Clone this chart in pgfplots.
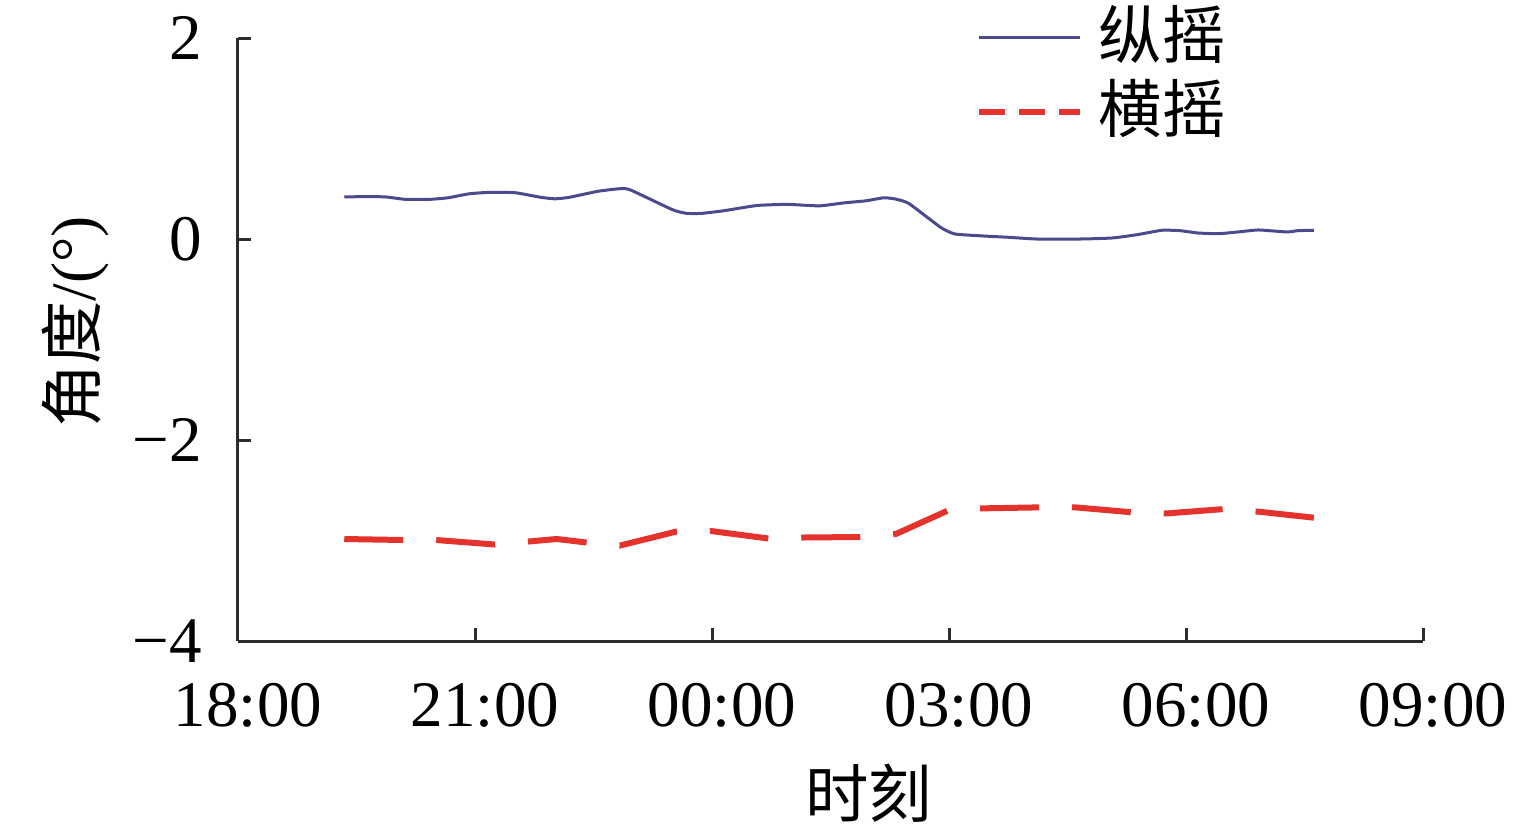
\documentclass[border=0pt]{standalone}
\usepackage{fontspec}
\setmainfont{Liberation Serif}
\newfontfamily\cjk{Noto Sans CJK SC}
\usepackage{pgfplots}
\pgfplotsset{compat=1.18}
\definecolor{pitchc}{RGB}{74,74,140}
\definecolor{rollc}{RGB}{228,50,45}
\definecolor{axisgray}{RGB}{45,45,45}

\pgfplotsset{
  pitchleg/.style={legend image code/.code={\draw[##1] (0pt,0.6pt) -- (30.3pt,0.6pt);}},
  rollleg/.style={legend image code/.code={\draw[##1, dash pattern=on 7.8pt off 4.2pt] (0pt,0.6pt) -- (30.3pt,0.6pt);}},
}

\pgfplotstableread{
h v
1.345 0.42
1.843 0.42
2.114 0.395
2.430 0.395
2.657 0.41
2.928 0.45
3.199 0.465
3.515 0.46
3.832 0.415
4.013 0.40
4.194 0.415
4.556 0.475
4.827 0.50
4.962 0.49
5.505 0.29
5.684 0.255
5.866 0.255
6.138 0.28
6.409 0.315
6.590 0.335
6.949 0.345
7.358 0.33
7.675 0.36
7.946 0.38
8.172 0.41
8.308 0.40
8.489 0.355
8.895 0.115
9.076 0.05
9.438 0.03
9.754 0.017
10.114 0.0
10.658 0.0
11.063 0.01
11.380 0.043
11.696 0.087
11.924 0.083
12.151 0.06
12.418 0.053
12.692 0.073
12.919 0.09
13.278 0.07
13.416 0.083
13.619 0.087
}\pitchdata

\pgfplotstableread{
h v
1.345 -2.985
2.085 -2.995
2.506 -2.995
3.253 -3.04
3.675 -3.01
4.034 -2.985
4.414 -3.02
4.835 -3.05
5.553 -2.91
5.984 -2.905
6.713 -2.98
7.157 -2.97
7.891 -2.965
8.328 -2.935
8.991 -2.70
9.428 -2.68
10.161 -2.67
10.597 -2.67
11.327 -2.72
11.762 -2.73
12.482 -2.687
12.919 -2.713
13.618 -2.773
}\rolldata

\begin{document}
\begin{tikzpicture}
\begin{axis}[
  scale only axis, width=355.5pt, height=180.9pt,
  xmin=0, xmax=15, ymin=-4, ymax=2,
  axis x line=bottom, axis y line=left,
  axis line style={-, draw=axisgray, line width=0.9pt},
  xtick={0,3,6,9,12,15},
  xticklabels={18:00,21:00,00:00,03:00,06:00,09:00},
  ytick={-4,-2,0,2}, yticklabels={−4,−2,0,2},
  tick align=inside, major tick length=3.9pt,
  tick style={draw=axisgray, line width=0.9pt},
  ticklabel style={font=\fontsize{19.5}{22}\selectfont},
  xticklabel style={yshift=-9pt, xshift=3pt},
  yticklabel style={xshift=-7.4pt},
  xlabel={\cjk 时刻}, ylabel={{\cjk 角度}/(°)},
  every axis x label/.style={at={([yshift=-45.6pt]rel axis cs:0.532,0)}, anchor=center, font=\fontsize{19}{22}\selectfont},
  every axis y label/.style={at={([xshift=-48.9pt]rel axis cs:0,0.529)}, anchor=center, rotate=90, font=\fontsize{19}{22}\selectfont},
  legend style={at={(rel axis cs:0.622,1.051)}, anchor=north west, draw=none, fill=none,
    inner sep=0pt, row sep=3.2pt, column sep=4.8pt,
    nodes={inner sep=0pt, text height=15.2pt, text depth=3.8pt, font=\cjk\fontsize{19}{22}\selectfont}},
  legend cell align=left,
  clip=false,
]
\addplot[pitchc, line width=0.9pt, smooth, tension=0.3, pitchleg] table[x=h,y=v] {\pitchdata};
\addlegendentry{纵摇}
\addplot[rollc, line width=1.8pt, dash pattern=on 17.7pt off 9.9pt, rollleg] table[x=h,y=v] {\rolldata};
\addlegendentry{横摇}
\coordinate (ll) at (rel axis cs:0,0);
\end{axis}
\path (ll) ++(-71.4pt,-57.3pt) rectangle ++(459.6pt,249.6pt);
\end{tikzpicture}
\end{document}
